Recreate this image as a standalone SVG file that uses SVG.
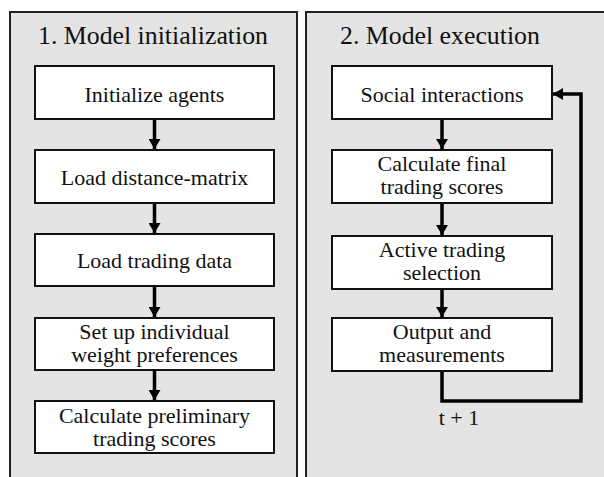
<svg xmlns="http://www.w3.org/2000/svg" width="604" height="477" viewBox="0 0 604 477">
<style>
.panel{fill:#e4e4e4;stroke:#222;stroke-width:2}
.box{fill:#fff;stroke:#111;stroke-width:2}
.t{font-family:'Liberation Serif','Times New Roman',Times,serif;font-size:22px;fill:#111;text-anchor:middle}
.h{font-family:'Liberation Serif','Times New Roman',Times,serif;font-size:25.8px;fill:#111}
.c{fill:none;stroke:#000;stroke-width:3.5}
</style>
<defs>
<marker id="ah" markerUnits="userSpaceOnUse" markerWidth="14" markerHeight="12" refX="10" refY="6" orient="auto">
<path d="M0,0 L10,6 L0,12 Z" fill="#000"/>
</marker>
</defs>
<rect width="604" height="477" fill="#fff"/>
<g id="panel1">
<rect class="panel" x="10" y="12" width="287" height="480"/>
<text class="h" x="38" y="44">1. Model initialization</text>
</g>
<g id="panel2">
<rect class="panel" x="306" y="12" width="310" height="480"/>
<text class="h" x="340" y="44">2. Model execution</text>
</g>
<g id="n1"><rect class="box" x="35" y="66" width="239" height="53"/><text class="t" x="154.5" y="101.5">Initialize agents</text></g>
<g id="n2"><rect class="box" x="35" y="150" width="239" height="53"/><text class="t" x="154.5" y="185">Load distance-matrix</text></g>
<g id="n3"><rect class="box" x="35" y="234" width="239" height="52"/><text class="t" x="154.5" y="268">Load trading data</text></g>
<g id="n4"><rect class="box" x="35" y="318" width="239" height="52"/><text class="t" x="154.5" y="339">Set up individual</text><text class="t" x="154.5" y="361.5">weight preferences</text></g>
<g id="n5"><rect class="box" x="35" y="401" width="239" height="52"/><text class="t" x="154.5" y="423">Calculate preliminary</text><text class="t" x="154.5" y="445.5">trading scores</text></g>
<g id="m1"><rect class="box" x="332" y="66" width="220" height="53"/><text class="t" x="442" y="101.5">Social interactions</text></g>
<g id="m2"><rect class="box" x="332" y="150" width="220" height="53"/><text class="t" x="442" y="171">Calculate final</text><text class="t" x="442" y="193.5">trading scores</text></g>
<g id="m3"><rect class="box" x="332" y="236" width="220" height="53"/><text class="t" x="442" y="256.5">Active trading</text><text class="t" x="442" y="280">selection</text></g>
<g id="m4"><rect class="box" x="332" y="318" width="220" height="53"/><text class="t" x="442" y="339">Output and</text><text class="t" x="442" y="361.5">measurements</text></g>
<g id="connectors">
<line class="c" x1="154.5" y1="120" x2="154.5" y2="149" marker-end="url(#ah)"/>
<line class="c" x1="154.5" y1="204" x2="154.5" y2="233" marker-end="url(#ah)"/>
<line class="c" x1="154.5" y1="287" x2="154.5" y2="317" marker-end="url(#ah)"/>
<line class="c" x1="154.5" y1="371" x2="154.5" y2="400" marker-end="url(#ah)"/>
<line class="c" x1="442" y1="120" x2="442" y2="149" marker-end="url(#ah)"/>
<line class="c" x1="442" y1="204" x2="442" y2="235" marker-end="url(#ah)"/>
<line class="c" x1="442" y1="290" x2="442" y2="317" marker-end="url(#ah)"/>
<path class="c" d="M442,372 V401 H581 V94 H553" marker-end="url(#ah)"/>
<text class="t" x="459" y="425">t + 1</text>
</g>
</svg>
